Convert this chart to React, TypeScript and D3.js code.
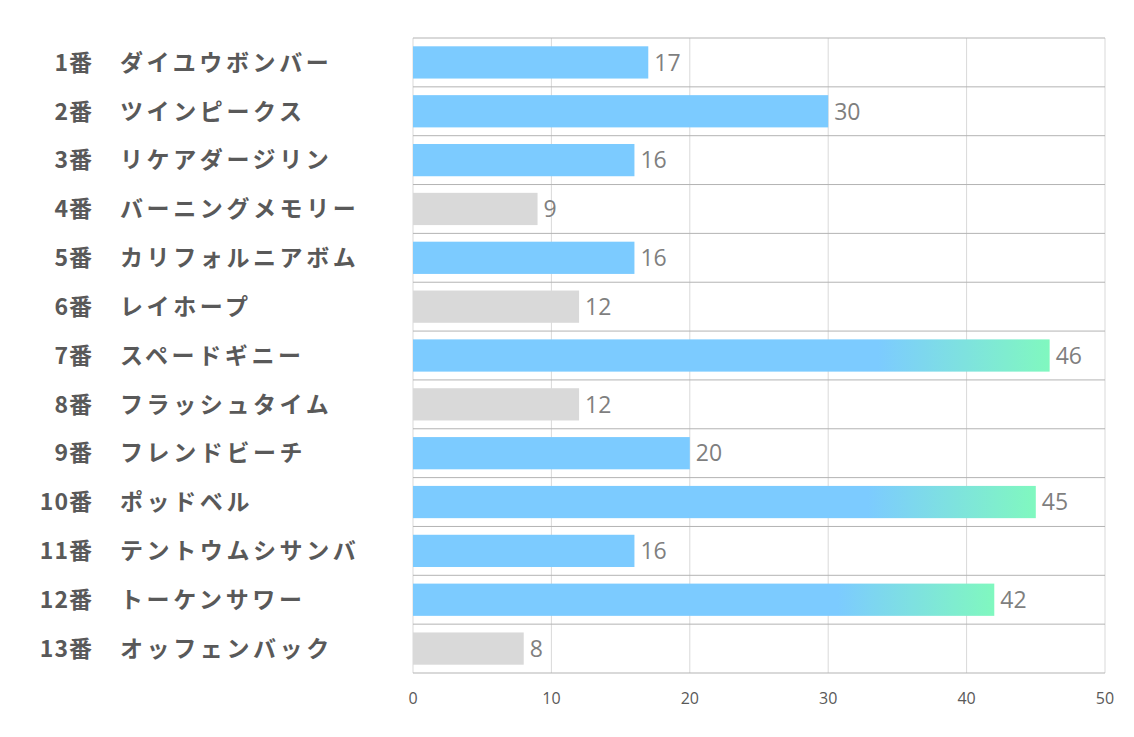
import React from "react";
import * as d3 from "d3";

// 馬番・馬名・値
const numbers = ["1番", "2番", "3番", "4番", "5番", "6番", "7番", "8番", "9番", "10番", "11番", "12番", "13番"];
const names = [
  "ダイユウボンバー",
  "ツインピークス",
  "リケアダージリン",
  "バーニングメモリー",
  "カリフォルニアボム",
  "レイホープ",
  "スペードギニー",
  "フラッシュタイム",
  "フレンドビーチ",
  "ポッドベル",
  "テントウムシサンバ",
  "トーケンサワー",
  "オッフェンバック",
];
const values = [17, 30, 16, 9, 16, 12, 46, 12, 20, 45, 16, 42, 8];
// bar type: "hot" = gradient, "on" = blue, "off" = gray
const kinds = ["on", "on", "on", "off", "on", "off", "hot", "off", "on", "hot", "on", "hot", "off"];
const ticks = [0, 10, 20, 30, 40, 50];

const W = 1134;
const H = 737;
const left = 413;
const right = 1105;
const top = 38;
const bottom = 673;

export default function App() {
  const x = d3.scaleLinear().domain([0, 50]).range([left, right]);
  const y = d3
    .scaleBand<number>()
    .domain(d3.range(values.length))
    .range([top, bottom])
    .paddingInner(0.34)
    .paddingOuter(0.17);
  const step = y.step();
  const rowTop = (i: number) => top + i * step;

  const fill = (k: string) => (k === "hot" ? "url(#hotGrad)" : k === "on" ? "#7ccbff" : "#d9d9d9");

  return (
    <svg width={W} height={H} style={{ position: "absolute", left: 0, top: 0, background: "#fff" }}>
      <defs>
        <linearGradient id="hotGrad" x1="0" x2="1" y1="0" y2="0">
          <stop offset="0" stopColor="#7ccbff" />
          <stop offset="0.73" stopColor="#7ccbff" />
          <stop offset="1" stopColor="#80f8bf" />
        </linearGradient>
      </defs>

      {/* vertical grid */}
      {ticks.map((t) => (
        <line key={"v" + t} x1={x(t)} x2={x(t)} y1={top} y2={bottom} stroke="#d9d9d9" strokeWidth={1} />
      ))}

      {/* row separators */}
      {d3.range(values.length + 1).map((i) => (
        <line key={"h" + i} x1={left} x2={right} y1={rowTop(i)} y2={rowTop(i)} stroke="#b3b3b3" strokeWidth={1} />
      ))}

      {/* bars */}
      {values.map((v, i) => (
        <rect key={"b" + i} x={x(0)} y={y(i)} width={x(v) - x(0)} height={y.bandwidth()} fill={fill(kinds[i])} />
      ))}

      {/* value labels */}
      {values.map((v, i) => (
        <text
          key={"l" + i}
          x={x(v) + 6}
          y={(y(i) as number) + y.bandwidth() / 2}
          dy="0.36em"
          fontFamily="'Open Sans', 'Noto Sans', sans-serif"
          fontSize={23}
          fill="#7f7f7f"
        >
          {v}
        </text>
      ))}

      {/* category labels */}
      {values.map((_, i) => {
        const cy = (y(i) as number) + y.bandwidth() / 2;
        return (
          <g key={"c" + i} fontFamily="'Noto Sans CJK JP', sans-serif" fontWeight="bold" fontSize={23} fill="#595959">
            <text x={93} y={cy} dy="0.36em" textAnchor="end" letterSpacing={1}>
              {numbers[i]}
            </text>
            <text x={120} y={cy} dy="0.36em" letterSpacing={3.6}>
              {names[i]}
            </text>
          </g>
        );
      })}

      {/* x axis tick labels */}
      {ticks.map((t) => (
        <text
          key={"t" + t}
          x={x(t)}
          y={698}
          dy="0.36em"
          textAnchor="middle"
          fontFamily="'Liberation Sans Narrow', 'Open Sans', sans-serif"
          fontSize={16}
          fill="#595959"
        >
          {t}
        </text>
      ))}
    </svg>
  );
}
